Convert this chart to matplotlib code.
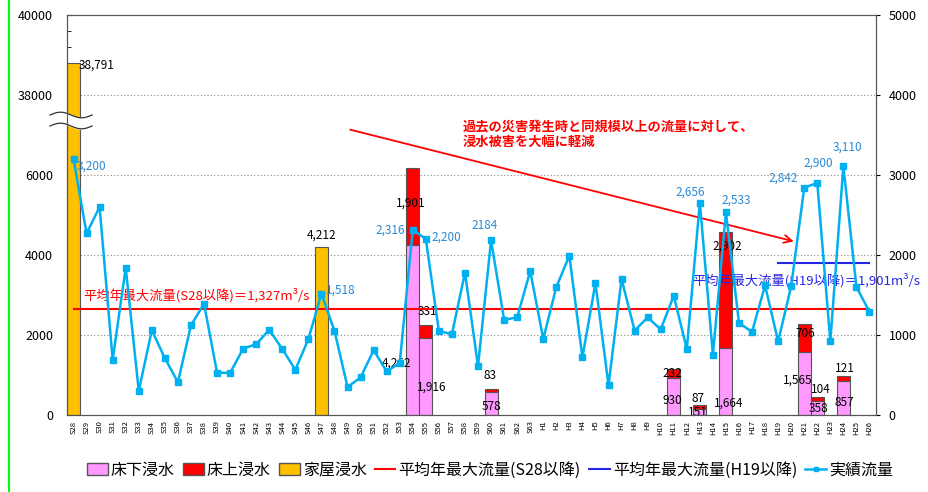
import numpy as np
import matplotlib
matplotlib.use('Agg')
import matplotlib.pyplot as plt
from matplotlib.lines import Line2D
from matplotlib.patches import Patch
import matplotlib.transforms as mtransforms

plt.rcParams['font.family'] = ['Noto Sans CJK JP', 'DejaVu Sans']

# 年次ラベル (S28〜S63, H1〜H26)
years = ['S%d' % y for y in range(28, 64)] + ['H%d' % y for y in range(1, 27)]

# 実績流量 (m3/s)
flow = [3200, 2270, 2600, 690, 1840, 300, 1060, 710, 410, 1120,
        1390, 530, 525, 830, 885, 1065, 825, 565, 950, 1518,
        1050, 350, 470, 810, 545, 650, 2316, 2200, 1050, 1010,
        1780, 610, 2184, 1190, 1220, 1800,
        950, 1600, 1990, 720, 1650, 370, 1700, 1055, 1220, 1070,
        1490, 825, 2656, 755, 2533, 1150, 1040, 1620, 920, 1610,
        2842, 2900, 920, 3110, 1600, 1290]

# 浸水被害 (戸)
flood_years = ['S54', 'S55', 'S60', 'H11', 'H13', 'H15', 'H21', 'H22', 'H24']
below_floor = [4262, 1916, 578, 930, 151, 1664, 1565, 358, 857]
above_floor = [1901, 331, 83, 232, 87, 2902, 706, 104, 121]
house_years = ['S28', 'S47']
house_flooded = [38791, 4212]

avg_all = 1327   # S28以降
avg_h19 = 1901   # H19以降

# 流量ラベルの表示位置 (pixel offset)
flow_label_pos = {'S28': (18, -7), 'S47': (19, 3), 'S54': (-23, 0), 'S55': (21, 2),
                  'S60': (-6, 15), 'H13': (-10, 10), 'H15': (10, 12), 'H21': (-21, 9),
                  'H22': (1, 20), 'H24': (4, 19)}
below_label_pos = [(-16, 52), (6, 28), (0, 8), (-1, 14), (-2, 2), (3, 12), (-6, 35), (1, 7), (1, 13)]
above_label_pos = [(-2, -35), (2, 14), (-1, 13), (-1, -5), (-2, 7), (1, -14), (1, -9), (4, 7), (1, 7)]

PINK = '#FF99FF'
RED = '#FF0000'
ORANGE = '#FFC000'
CYAN = '#00B0F0'
LBLUE = '#2a8ad6'
BLUE = '#2525E6'
BREAK = 30000  # 38000以上は8000の位置から描く


def to_axis(v):
    return v - BREAK if v > BREAK else v


fig = plt.figure(figsize=(9.29, 4.92), dpi=100)
ax = fig.add_axes([67 / 929, 1 - 415 / 492, 809 / 929, 400 / 492])
x = np.arange(len(years))
idx = {y: i for i, y in enumerate(years)}

# 棒グラフ
fx = [idx[y] for y in flood_years]
ax.bar(fx, below_floor, width=1.0, color=PINK, edgecolor='#555555', lw=0.8, zorder=2)
ax.bar(fx, above_floor, width=1.0, bottom=below_floor, color=RED, edgecolor='#555555', lw=0.8, zorder=2)
hx = [idx[y] for y in house_years]
ax.bar(hx, [to_axis(v) for v in house_flooded], width=1.0, color=ORANGE, edgecolor='#555555', lw=0.8, zorder=2)

for i, b, a, (dxb, dyb), (dxa, dya) in zip(fx, below_floor, above_floor, below_label_pos, above_label_pos):
    ax.annotate(f'{b:,}', (i, 0), xytext=(dxb, dyb), textcoords='offset pixels',
                ha='center', va='center', fontsize=8.5, zorder=5)
    ax.annotate(f'{a:,}', (i, b + a), xytext=(dxa, dya), textcoords='offset pixels',
                ha='center', va='center', fontsize=8.5, zorder=5)
ax.annotate(f'{house_flooded[0]:,}', (hx[0], to_axis(house_flooded[0])), xytext=(23, -2),
            textcoords='offset pixels', ha='center', va='center', fontsize=8.5)
ax.annotate(f'{house_flooded[1]:,}', (hx[1], house_flooded[1]), xytext=(0, 11),
            textcoords='offset pixels', ha='center', va='center', fontsize=8.5)

ax.set_xlim(-0.5, len(years) - 0.5)
ax.set_ylim(0, 10000)
ax.set_yticks([0, 2000, 4000, 6000, 8000, 10000])
ax.set_yticklabels(['0', '2000', '4000', '6000', '38000', '40000'], fontsize=9)
ax.yaxis.set_minor_locator(matplotlib.ticker.MultipleLocator(400))
ax.tick_params(axis='y', which='both', direction='in', length=3, pad=10)
ax.set_xticks(x)
ax.set_xticklabels(years, rotation=90, fontsize=5.5)
ax.tick_params(axis='x', length=0, pad=4)
for g in [2000, 4000, 6000, 8000]:
    ax.axhline(g, color='#888888', lw=0.8, ls=(0, (1, 2)), zorder=1)
for s in ax.spines.values():
    s.set_color('#555555')

# 軸の省略記号
trans = mtransforms.blended_transform_factory(ax.transAxes, ax.transData)
wx = np.linspace(-0.021, 0.031, 60)
wave = 70 * np.sin((wx - wx[0]) / (wx[-1] - wx[0]) * 2 * np.pi)
ax.fill_between(wx, 7225 + wave, 7500 + wave, color='white', transform=trans, clip_on=False, zorder=6)
ax.plot(wx, 7500 + wave, color='#333333', lw=0.9, transform=trans, clip_on=False, zorder=7)
ax.plot(wx, 7225 + wave, color='#333333', lw=0.9, transform=trans, clip_on=False, zorder=7)

# 流量 (右軸)
ax2 = ax.twinx()
ax2.set_ylim(0, 5000)
ax2.set_yticks(range(0, 5001, 1000))
ax2.tick_params(axis='y', direction='out', length=3, labelsize=9, pad=6)
ax2.plot(x, flow, color=CYAN, lw=1.8, marker='s', ms=4, zorder=4)
ax2.plot([0, len(years) - 1], [avg_all, avg_all], color=RED, lw=1.5, zorder=3)
ax2.plot([idx['H19'], idx['H26']], [avg_h19, avg_h19], color=BLUE, lw=1.5, zorder=3)
for s in ax2.spines.values():
    s.set_color('#555555')

for y, (dx, dy) in flow_label_pos.items():
    v = flow[idx[y]]
    txt = str(v) if y == 'S60' else f'{v:,}'
    ax2.annotate(txt, (idx[y], v), xytext=(dx, dy), textcoords='offset pixels',
                 ha='center', va='center', fontsize=8.5, color=LBLUE)

ax2.text(0.73, 1500, '平均年最大流量(S28以降)＝1,327m³/s', color=RED, fontsize=9.5, va='center')
ax2.text(47.4, 1690, '平均年最大流量(H19以降)＝1,901m³/s', color=BLUE, fontsize=9.5,
         va='center', clip_on=False)

ax2.annotate('', xy=(55.4, 2162), xytext=(21.0, 3575),
             arrowprops=dict(arrowstyle='->', color=RED, lw=1.3, mutation_scale=14))
ax2.text(29.8, 3500, '過去の災害発生時と同規模以上の流量に対して、\n浸水被害を大幅に軽減',
         color=RED, fontsize=9.5, fontweight='bold', va='center', ha='left', linespacing=1.05)

# 凡例
handles = [Patch(facecolor=PINK, edgecolor='#555555'),
           Patch(facecolor=RED, edgecolor='#555555'),
           Patch(facecolor=ORANGE, edgecolor='#555555'),
           Line2D([], [], color=RED, lw=1.5),
           Line2D([], [], color=BLUE, lw=1.5),
           Line2D([], [], color=CYAN, lw=1.8, marker='s', ms=3.5)]
labels = ['床下浸水', '床上浸水', '家屋浸水', '平均年最大流量(S28以降)',
          '平均年最大流量(H19以降)', '実績流量']
fig.legend(handles, labels, loc='center', bbox_to_anchor=(490 / 929, 1 - 470 / 492), ncol=6,
           frameon=False, fontsize=11.5, handlelength=1.3, handletextpad=0.2, columnspacing=0.5)

fig.add_artist(Line2D([9 / 929, 9 / 929], [0, 1], color='#00FF00', lw=1.5, transform=fig.transFigure))

fig.savefig('out.png', dpi=100)
